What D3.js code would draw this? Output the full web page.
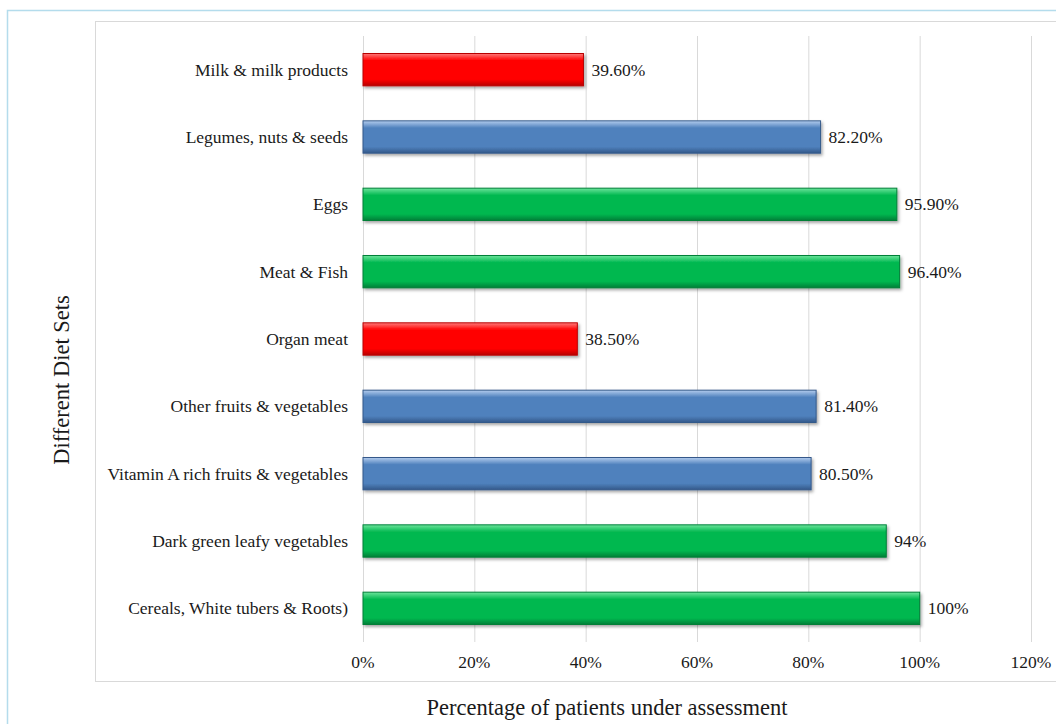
<!DOCTYPE html>
<html lang="en">

<head>
    <meta charset="UTF-8">
    <script src="https://cdn.jsdelivr.net/npm/d3@7"></script>
    <title>Different Diet Sets</title>
    <style>
        body { margin: 0; background: white; }
        text { font-family: "Liberation Serif", "Times New Roman", serif; fill: #1a1a1a; }
        .grid line { stroke: #d9d9d9; stroke-width: 1px; }
        .grid path { display: none; }
    </style>
</head>

<body>
    <script>
        /*-------------------------------------------------------*/
        /*------------------------ Data -------------------------*/
        /*-------------------------------------------------------*/
        // diet sets from top to bottom
        const categories = [
            "Milk & milk products",
            "Legumes, nuts & seeds",
            "Eggs",
            "Meat & Fish",
            "Organ meat",
            "Other fruits & vegetables",
            "Vitamin A rich fruits & vegetables",
            "Dark green leafy vegetables",
            "Cereals, White tubers & Roots)"
        ];
        // percentage of patients
        const values = [39.6, 82.2, 95.9, 96.4, 38.5, 81.4, 80.5, 94, 100];
        const valueLabels = ["39.60%", "82.20%", "95.90%", "96.40%", "38.50%", "81.40%", "80.50%", "94%", "100%"];
        // colour group of each bar
        const groups = ["red", "blue", "green", "green", "red", "blue", "blue", "green", "green"];
        const xTicks = [0, 20, 40, 60, 80, 100, 120];

        /*-------------------------------------------------------*/
        /*------------------- Window setting --------------------*/
        /*-------------------------------------------------------*/
        const width = 1056, height = 724;
        const plot = { left: 363, right: 1031, top: 36, bottom: 642 };
        const labelSize = "17.5px";

        const svg = d3.select("body").append("svg")
            .attr("width", width)
            .attr("height", height);

        // outer frame and chart area frame
        svg.append("rect")
            .attr("x", 7.5).attr("y", 10.5)
            .attr("width", 1060).attr("height", 730)
            .attr("fill", "none").attr("stroke", "#b4dcec").attr("stroke-width", 1.5);
        svg.append("rect")
            .attr("x", 95.5).attr("y", 21.5)
            .attr("width", 1000).attr("height", 660)
            .attr("fill", "none").attr("stroke", "#d9d9d9");

        /*-------------------------------------------------------*/
        /*------------------------ Scales -----------------------*/
        /*-------------------------------------------------------*/
        const x = d3.scaleLinear().domain([0, 120]).range([plot.left, plot.right]);
        const y = d3.scaleBand().domain(categories).range([plot.top, plot.bottom])
            .paddingInner(0.52).paddingOuter(0.26);

        // bar colours: [light top, main, dark bottom]
        const palette = {
            red: ["#ff7a7a", "#ff0000", "#b80000"],
            blue: ["#b4cdee", "#4f81bd", "#34598a"],
            green: ["#6de59c", "#00b850", "#007f37"]
        };

        const defs = svg.append("defs");
        Object.keys(palette).forEach(k => {
            const g = defs.append("linearGradient")
                .attr("id", "grad-" + k)
                .attr("x1", 0).attr("y1", 0).attr("x2", 0).attr("y2", 1);
            g.append("stop").attr("offset", "0%").attr("stop-color", palette[k][0]);
            g.append("stop").attr("offset", "22%").attr("stop-color", palette[k][1]);
            g.append("stop").attr("offset", "80%").attr("stop-color", palette[k][1]);
            g.append("stop").attr("offset", "100%").attr("stop-color", palette[k][2]);
        });
        const shadow = defs.append("filter").attr("id", "shadow")
            .attr("x", "-5%").attr("y", "-20%").attr("width", "110%").attr("height", "160%");
        shadow.append("feDropShadow")
            .attr("dx", 1.5).attr("dy", 2).attr("stdDeviation", 1.5)
            .attr("flood-color", "#000").attr("flood-opacity", 0.35);

        /*-------------------------------------------------------*/
        /*------------------------ Grid -------------------------*/
        /*-------------------------------------------------------*/
        svg.append("g")
            .attr("class", "grid")
            .attr("transform", `translate(0,${plot.bottom})`)
            .call(d3.axisBottom(x).tickValues(xTicks).tickSize(plot.bottom - plot.top).tickSizeOuter(0).tickFormat(""))
            .selectAll("line")
            .attr("y2", -(plot.bottom - plot.top));

        // tick labels
        svg.append("g")
            .selectAll("text")
            .data(xTicks)
            .enter()
            .append("text")
            .attr("x", d => x(d))
            .attr("y", 668)
            .attr("text-anchor", "middle")
            .style("font-size", labelSize)
            .text(d => d + "%");

        /*-------------------------------------------------------*/
        /*------------------------ Bars -------------------------*/
        /*-------------------------------------------------------*/
        svg.append("g")
            .selectAll("rect")
            .data(categories)
            .enter()
            .append("rect")
            .attr("x", x(0))
            .attr("y", d => y(d))
            .attr("width", (d, i) => x(values[i]) - x(0))
            .attr("height", y.bandwidth())
            .attr("fill", (d, i) => "url(#grad-" + groups[i] + ")")
            .attr("stroke", (d, i) => palette[groups[i]][2])
            .attr("stroke-width", 1)
            .attr("filter", "url(#shadow)");

        // value labels
        svg.append("g")
            .selectAll("text")
            .data(categories)
            .enter()
            .append("text")
            .attr("x", (d, i) => x(values[i]) + 8)
            .attr("y", d => y(d) + y.bandwidth() / 2)
            .attr("dy", "0.35em")
            .style("font-size", labelSize)
            .text((d, i) => valueLabels[i]);

        // category labels
        svg.append("g")
            .selectAll("text")
            .data(categories)
            .enter()
            .append("text")
            .attr("x", 348)
            .attr("y", d => y(d) + y.bandwidth() / 2)
            .attr("dy", "0.35em")
            .attr("text-anchor", "end")
            .style("font-size", labelSize)
            .text(d => d);

        /*-------------------------------------------------------*/
        /*----------------------- Titles ------------------------*/
        /*-------------------------------------------------------*/
        svg.append("text")
            .attr("x", 607)
            .attr("y", 715)
            .attr("text-anchor", "middle")
            .style("font-size", "22.5px")
            .text("Percentage of patients under assessment");

        svg.append("text")
            .attr("transform", "translate(69,380) rotate(-90)")
            .attr("text-anchor", "middle")
            .style("font-size", "22.5px")
            .text("Different Diet Sets");
    </script>
</body>

</html>
